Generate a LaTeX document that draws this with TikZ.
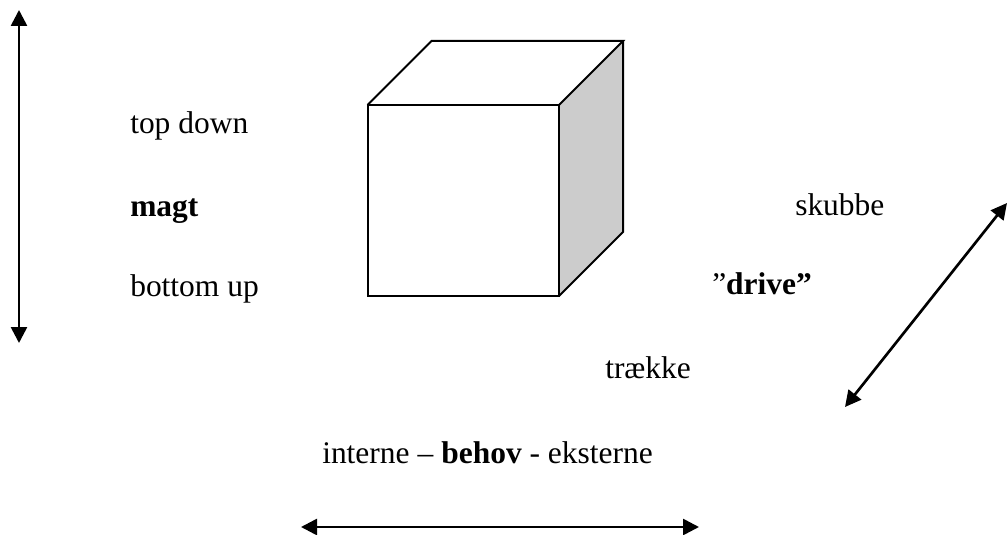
\documentclass[tikz,border=0pt]{standalone}
\usepackage{fontspec}
\setmainfont{Liberation Serif}
\usetikzlibrary{arrows.meta}
\tikzset{
  lbl/.style={anchor=base west, inner sep=0pt, font=\fontsize{23.6}{28}\selectfont},
  dbl/.style={line width=2pt, {Triangle[length=12pt,width=12pt]}-{Triangle[length=12pt,width=12pt]}},
  edge/.style={line width=1.5pt, line join=miter}
}
\begin{document}
\begin{tikzpicture}[x=0.75pt,y=-0.75pt]
\useasboundingbox (0,0) rectangle (1008,535);
% cube
\coordinate (fa) at (367.5,105);
\coordinate (fb) at (559,105);
\coordinate (fc) at (559,296);
\coordinate (fd) at (367.5,296);
\coordinate (ba) at (431.5,41);
\coordinate (bb) at (623,41);
\coordinate (bc) at (623,232);
\fill[fill=white] (fa) -- (ba) -- (bb) -- (fb) -- cycle;
\fill[fill={rgb,255:red,204;green,204;blue,204}] (fb) -- (bb) -- (bc) -- (fc) -- cycle;
\draw[edge] (fa) rectangle (fc);
\draw[edge] (fa) -- (ba) -- (bb) -- (fb);
\draw[edge] (bb) -- (bc) -- (fc);
% labels
\node[lbl] (td) at (130,134) {top down};
\node[lbl] (mg) at (130,216) {\bfseries magt};
\node[lbl] (bu) at (130,296) {bottom up};
\node[lbl] (sk) at (795,215) {skubbe};
\node[lbl] (dr) at (712,294) {”\textbf{drive”}};
\node[lbl] (tr) at (605,378) {trække};
\node[lbl] (ib) at (322,463) {interne – \textbf{behov} - eksterne};
% arrows
\coordinate (v1) at (19,10);
\coordinate (v2) at (19,343);
\draw[dbl] (v1) -- (v2);
\coordinate (h1) at (301,527);
\coordinate (h2) at (699,527);
\draw[dbl] (h1) -- (h2);
\coordinate (d1) at (845,407);
\coordinate (d2) at (1007,203);
\draw[dbl] (d1) -- (d2);
\end{tikzpicture}
\end{document}
